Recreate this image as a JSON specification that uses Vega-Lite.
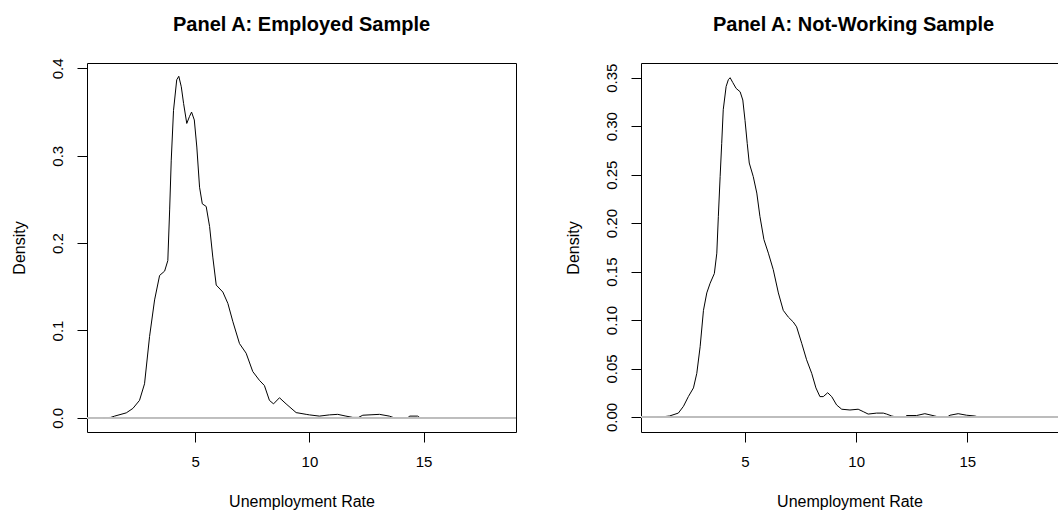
{
  "$schema": "https://vega.github.io/schema/vega-lite/v6.json",
  "background": "white",
  "padding": {"left": 10, "top": 14, "right": 0, "bottom": 0},
  "spacing": 125,
  "bounds": "flush",
  "config": {
    "font": "Liberation Sans",
    "view": {"stroke": "#000", "strokeWidth": 1},
    "axis": {
      "domain": false, "grid": false,
      "tickColor": "#000", "tickSize": 10, "tickWidth": 1,
      "labelFont": "Liberation Sans", "labelFontSize": 15, "labelColor": "#000",
      "titleFont": "Liberation Sans", "titleFontSize": 16, "titleFontWeight": "normal", "titleColor": "#000"
    },
    "axisX": {"labelPadding": 12, "titlePadding": 24},
    "axisY": {"labelAngle": 270, "labelAlign": "center", "labelBaseline": "alphabetic", "labelPadding": 15, "titlePadding": 23},
    "title": {"font": "Liberation Sans", "fontSize": 20, "fontWeight": "bold", "color": "#000", "anchor": "middle", "frame": "group", "baseline": "alphabetic"}
  },
  "datasets": {
    "employed": [
      {"x": 0.96, "d": 0}, {"x": 1.3, "d": 0.0005}, {"x": 1.47, "d": 0.002}, {"x": 1.98, "d": 0.0057},
      {"x": 2.27, "d": 0.0108}, {"x": 2.56, "d": 0.02}, {"x": 2.78, "d": 0.039}, {"x": 3.0, "d": 0.093},
      {"x": 3.22, "d": 0.135}, {"x": 3.44, "d": 0.163}, {"x": 3.66, "d": 0.168}, {"x": 3.8, "d": 0.18},
      {"x": 3.88, "d": 0.238}, {"x": 3.95, "d": 0.295}, {"x": 4.05, "d": 0.352}, {"x": 4.19, "d": 0.387},
      {"x": 4.28, "d": 0.391}, {"x": 4.39, "d": 0.379}, {"x": 4.49, "d": 0.36}, {"x": 4.63, "d": 0.337},
      {"x": 4.75, "d": 0.345}, {"x": 4.84, "d": 0.35}, {"x": 4.96, "d": 0.341}, {"x": 5.07, "d": 0.31},
      {"x": 5.19, "d": 0.264}, {"x": 5.31, "d": 0.245}, {"x": 5.48, "d": 0.242}, {"x": 5.63, "d": 0.219},
      {"x": 5.77, "d": 0.184}, {"x": 5.92, "d": 0.152}, {"x": 6.21, "d": 0.144}, {"x": 6.43, "d": 0.131},
      {"x": 6.65, "d": 0.11}, {"x": 6.94, "d": 0.085}, {"x": 7.23, "d": 0.074}, {"x": 7.52, "d": 0.053},
      {"x": 7.81, "d": 0.043}, {"x": 8.03, "d": 0.037}, {"x": 8.25, "d": 0.02}, {"x": 8.43, "d": 0.016},
      {"x": 8.69, "d": 0.023}, {"x": 8.98, "d": 0.016}, {"x": 9.42, "d": 0.006}, {"x": 9.86, "d": 0.004},
      {"x": 10.0, "d": 0.0034}, {"x": 10.44, "d": 0.002}, {"x": 10.88, "d": 0.0034}, {"x": 11.24, "d": 0.004},
      {"x": 11.6, "d": 0.002}, {"x": 11.9, "d": 0.0005}, {"x": 12.15, "d": 0.0005}, {"x": 12.34, "d": 0.003},
      {"x": 12.7, "d": 0.0035}, {"x": 13.07, "d": 0.004}, {"x": 13.5, "d": 0.002}, {"x": 13.72, "d": 0.0},
      {"x": 14.3, "d": 0.0}, {"x": 14.4, "d": 0.002}, {"x": 14.74, "d": 0.002}, {"x": 14.85, "d": 0},
      {"x": 18.35, "d": 0}
    ],
    "notworking": [
      {"x": 1.03, "d": 0}, {"x": 1.35, "d": 0.0003}, {"x": 1.6, "d": 0.001}, {"x": 2.0, "d": 0.004},
      {"x": 2.23, "d": 0.011}, {"x": 2.45, "d": 0.021}, {"x": 2.68, "d": 0.03}, {"x": 2.83, "d": 0.045},
      {"x": 2.98, "d": 0.0725}, {"x": 3.13, "d": 0.11}, {"x": 3.28, "d": 0.128}, {"x": 3.43, "d": 0.138},
      {"x": 3.62, "d": 0.148}, {"x": 3.73, "d": 0.169}, {"x": 3.8, "d": 0.207}, {"x": 3.88, "d": 0.248},
      {"x": 3.95, "d": 0.282}, {"x": 4.02, "d": 0.317}, {"x": 4.15, "d": 0.341}, {"x": 4.25, "d": 0.348},
      {"x": 4.33, "d": 0.35}, {"x": 4.45, "d": 0.345}, {"x": 4.6, "d": 0.339}, {"x": 4.78, "d": 0.3355},
      {"x": 4.9, "d": 0.327}, {"x": 5.0, "d": 0.306}, {"x": 5.1, "d": 0.282}, {"x": 5.19, "d": 0.262},
      {"x": 5.37, "d": 0.248}, {"x": 5.53, "d": 0.231}, {"x": 5.67, "d": 0.207}, {"x": 5.85, "d": 0.183},
      {"x": 6.05, "d": 0.169}, {"x": 6.27, "d": 0.152}, {"x": 6.5, "d": 0.128}, {"x": 6.72, "d": 0.11},
      {"x": 6.95, "d": 0.103}, {"x": 7.17, "d": 0.098}, {"x": 7.32, "d": 0.093}, {"x": 7.55, "d": 0.076},
      {"x": 7.77, "d": 0.059}, {"x": 8.0, "d": 0.045}, {"x": 8.19, "d": 0.03}, {"x": 8.37, "d": 0.021},
      {"x": 8.52, "d": 0.021}, {"x": 8.72, "d": 0.025}, {"x": 8.9, "d": 0.021}, {"x": 9.12, "d": 0.0124},
      {"x": 9.35, "d": 0.008}, {"x": 9.72, "d": 0.0072}, {"x": 10.09, "d": 0.008}, {"x": 10.32, "d": 0.0055},
      {"x": 10.54, "d": 0.003}, {"x": 10.92, "d": 0.004}, {"x": 11.22, "d": 0.004}, {"x": 11.37, "d": 0.003},
      {"x": 11.6, "d": 0.001}, {"x": 11.8, "d": 0}, {"x": 12.2, "d": 0}, {"x": 12.27, "d": 0.0015},
      {"x": 12.72, "d": 0.0015}, {"x": 13.09, "d": 0.0034}, {"x": 13.54, "d": 0.001}, {"x": 13.7, "d": 0},
      {"x": 14.1, "d": 0}, {"x": 14.22, "d": 0.0018}, {"x": 14.59, "d": 0.0034}, {"x": 14.97, "d": 0.0018},
      {"x": 15.34, "d": 0.001}, {"x": 15.5, "d": 0}, {"x": 18.9, "d": 0}
    ]
  },
  "hconcat": [
    {
      "title": {"text": "Panel A: Employed Sample", "offset": 22.5},
      "width": 429, "height": 369,
      "data": {"name": "employed"},
      "layer": [
        {
          "mark": {"type": "line", "color": "#000", "strokeWidth": 1, "clip": true},
          "encoding": {
            "x": {"field": "x", "type": "quantitative", "scale": {"domain": [0.26, 19.05], "nice": false, "zero": false},
                  "axis": {"values": [5, 10, 15], "format": "d", "title": "Unemployment Rate"}},
            "y": {"field": "d", "type": "quantitative", "scale": {"domain": [-0.0162, 0.4062], "nice": false, "zero": false},
                  "axis": {"values": [0, 0.1, 0.2, 0.3, 0.4], "format": ".1f", "title": "Density"}}
          }
        },
        {"mark": {"type": "rule", "color": "#bebebe", "strokeWidth": 1}, "encoding": {"y": {"datum": 0}}}
      ]
    },
    {
      "title": {"text": "Panel A: Not-Working Sample", "offset": 28.5, "dx": 4},
      "width": 417, "height": 369,
      "data": {"name": "notworking"},
      "layer": [
        {
          "mark": {"type": "line", "color": "#000", "strokeWidth": 1, "clip": true},
          "encoding": {
            "x": {"field": "x", "type": "quantitative", "scale": {"domain": [0.32, 19.08], "nice": false, "zero": false},
                  "axis": {"values": [5, 10, 15], "format": "d", "title": "Unemployment Rate"}},
            "y": {"field": "d", "type": "quantitative", "scale": {"domain": [-0.0155, 0.3652], "nice": false, "zero": false},
                  "axis": {"values": [0, 0.05, 0.1, 0.15, 0.2, 0.25, 0.3, 0.35], "format": ".2f", "title": "Density"}}
          }
        },
        {"mark": {"type": "rule", "color": "#bebebe", "strokeWidth": 1}, "encoding": {"y": {"datum": 0}}}
      ]
    }
  ]
}
